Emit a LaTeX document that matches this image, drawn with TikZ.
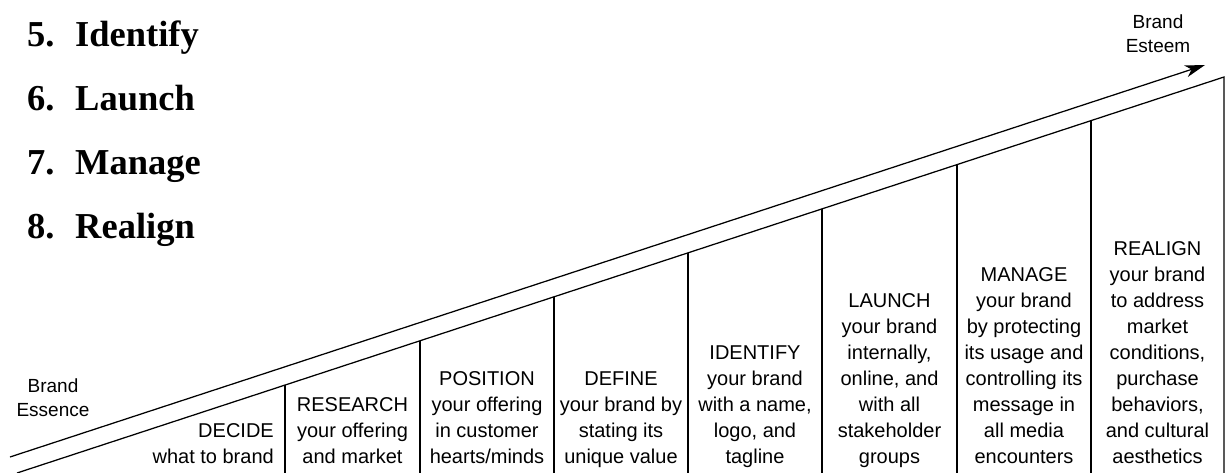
\documentclass[tikz,border=0pt]{standalone}
\usepackage{fontspec}
\setmainfont{Liberation Serif}
\newfontfamily\labelfont{Liberation Sans}
\usepackage{tikz}
\usetikzlibrary{arrows.meta, positioning}
\tikzstyle{stage} = [align=center, anchor=base, inner sep=0pt, font=\labelfont\fontsize{20}{26}\selectfont]
\tikzstyle{endlabel} = [align=center, inner sep=0pt, font=\labelfont\fontsize{19}{24}\selectfont]
\tikzstyle{item} = [anchor=base west, inner sep=0pt, font=\bfseries\fontsize{36.5}{42}\selectfont]
\tikzstyle{line} = [draw, line width=1.25pt]

\begin{document}
\begin{tikzpicture}[x=1pt, y=-1pt]
			\useasboundingbox (0, 0) rectangle (1227, 473);

			\node [item] (identify) at (27, 47) {\makebox[48pt][l]{5.}Identify};
			\node [item] (launch) at (27, 111) {\makebox[48pt][l]{6.}Launch};
			\node [item] (manage) at (27, 175) {\makebox[48pt][l]{7.}Manage};
			\node [item] (realign) at (27, 239) {\makebox[48pt][l]{8.}Realign};

			\coordinate (a0) at (10, 457);
			\coordinate (a1) at (1205, 65);
			\coordinate (l0) at (17, 473);
			\coordinate (l8) at (1224, 77);
			\coordinate (b8) at (1224, 473);
			\coordinate (l1) at (285, 385);
			\coordinate (l2) at (420, 340.7);
			\coordinate (l3) at (554, 296.8);
			\coordinate (l4) at (688, 252.8);
			\coordinate (l5) at (822, 208.9);
			\coordinate (l6) at (957, 164.6);
			\coordinate (l7) at (1091, 120.6);

			\path [line, -{Stealth[length=20pt, width=12pt, inset=6pt]}] (a0) -- (a1);
			\path [line] (l0) -- (l8) -- (b8);
			\path [line] (l1) -- (l1 |- b8);
			\path [line] (l2) -- (l2 |- b8);
			\path [line] (l3) -- (l3 |- b8);
			\path [line] (l4) -- (l4 |- b8);
			\path [line] (l5) -- (l5 |- b8);
			\path [line] (l6) -- (l6 |- b8);
			\path [line] (l7) -- (l7 |- b8);

			\node [endlabel] (essence) at (53, 398) {Brand\\Essence};
			\node [endlabel] (esteem) at (1158, 34) {Brand\\Esteem};

			\node [stage, anchor=base east, align=right] (decide) at (274, 463) {DECIDE\\what to brand};
			\node [stage] (research) at (352.5, 463) {RESEARCH\\your offering\\and market};
			\node [stage] (position) at (487, 463) {POSITION\\your offering\\in customer\\hearts/minds};
			\node [stage] (define) at (621, 463) {DEFINE\\your brand by\\stating its\\unique value};
			\node [stage] (identify2) at (755, 463) {IDENTIFY\\your brand\\with a name,\\logo, and\\tagline};
			\node [stage] (launch2) at (889.5, 463) {LAUNCH\\your brand\\internally,\\online, and\\with all\\stakeholder\\groups};
			\node [stage] (manage2) at (1024, 463) {MANAGE\\your brand\\by protecting\\its usage and\\controlling its\\message in\\all media\\encounters};
			\node [stage] (realign2) at (1157.5, 463) {REALIGN\\your brand\\to address\\market\\conditions,\\purchase\\behaviors,\\and cultural\\aesthetics};
		\end{tikzpicture}
\end{document}
